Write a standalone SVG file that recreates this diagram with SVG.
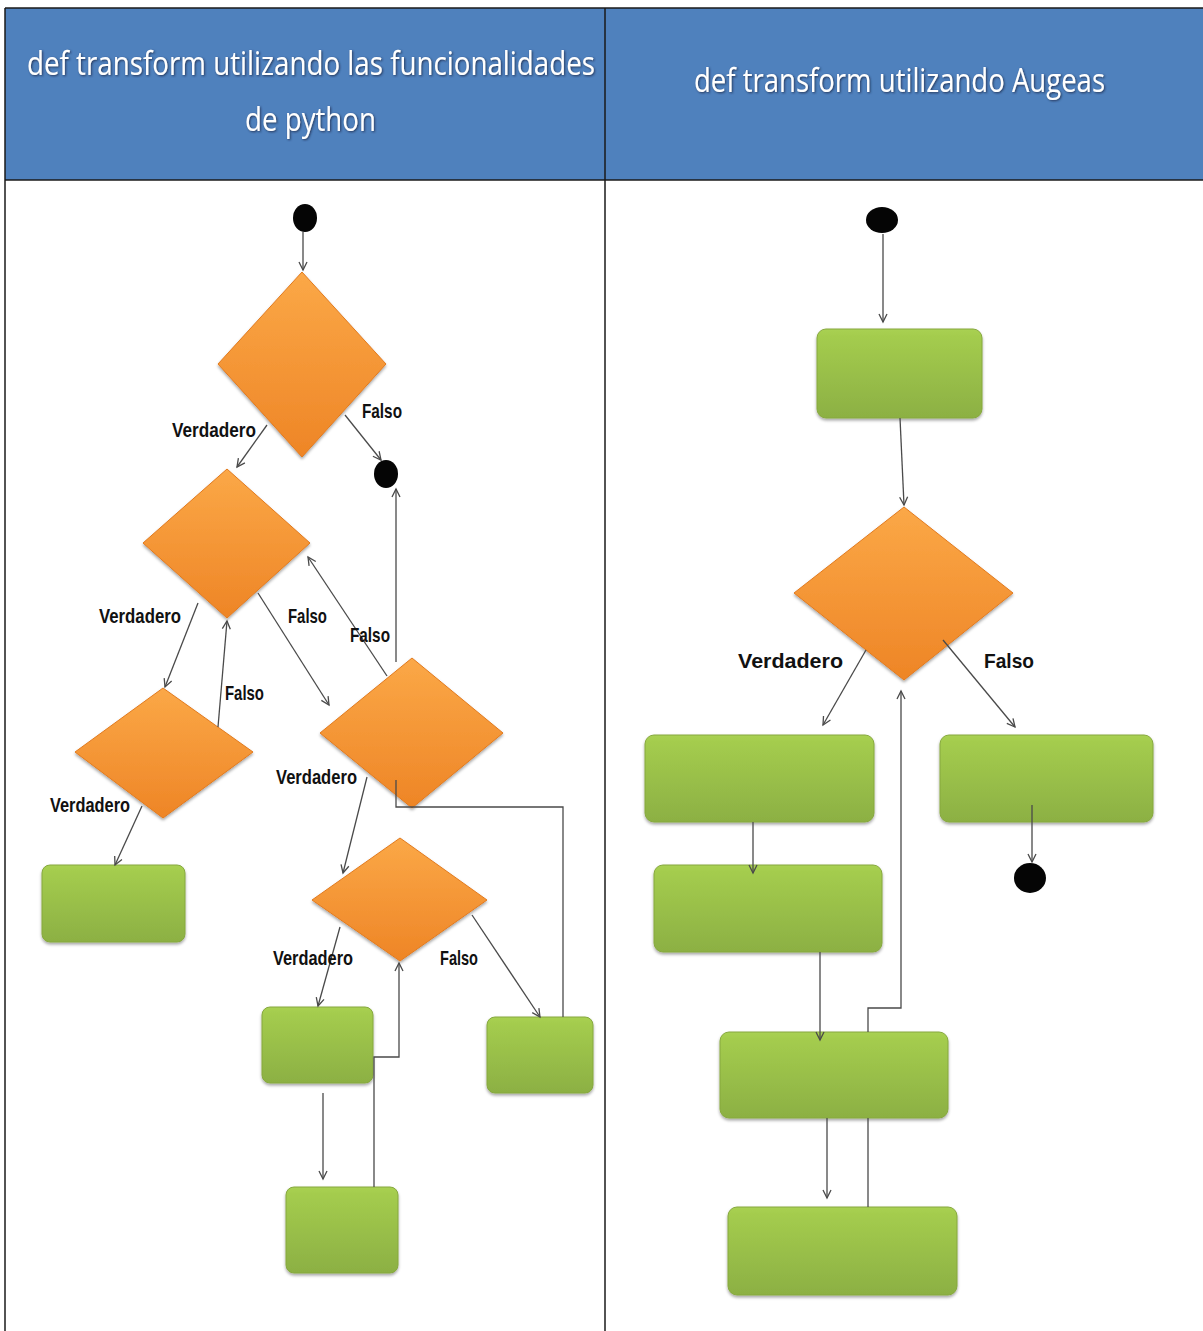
<svg xmlns="http://www.w3.org/2000/svg" width="1203" height="1331" viewBox="0 0 1203 1331">
<defs>
  <linearGradient id="gOrange" x1="0" y1="0" x2="0" y2="1">
    <stop offset="0" stop-color="#FBA847"/>
    <stop offset="1" stop-color="#EE8526"/>
  </linearGradient>
  <linearGradient id="gGreen" x1="0" y1="0" x2="0" y2="1">
    <stop offset="0" stop-color="#A9D152"/>
    <stop offset="0.08" stop-color="#A4CC4E"/>
    <stop offset="1" stop-color="#8CB043"/>
  </linearGradient>
  <filter id="shadow" x="-10%" y="-10%" width="120%" height="125%">
    <feDropShadow dx="0" dy="2" stdDeviation="1.5" flood-color="#000" flood-opacity="0.35"/>
  </filter>
  <filter id="tshadow" x="-5%" y="-20%" width="110%" height="150%">
    <feDropShadow dx="1" dy="1" stdDeviation="0.8" flood-color="#1F2F4F" flood-opacity="0.9"/>
  </filter>
  <marker id="arr" markerWidth="12" markerHeight="12" refX="9" refY="5" orient="auto" markerUnits="userSpaceOnUse">
    <path d="M1,1 L9,5 L1,9" fill="none" stroke="#4A4A4A" stroke-width="1.3"/>
  </marker>
</defs>
<style>
  .hdr { font-family: "Open Sans", "Liberation Sans", sans-serif; font-size: 32px; fill: #FFFFFF; }
  .lbl { font-family: "Liberation Sans", Arial, sans-serif; font-weight: bold; font-size: 21px; fill: #111; }
  .dia { fill: url(#gOrange); stroke: #E27A1E; stroke-width: 1; filter: url(#shadow); }
  .box { fill: url(#gGreen); stroke: #86A83E; stroke-width: 1; filter: url(#shadow); }
  .dot { fill: #050505; }
  .con { fill: none; stroke: #4A4A4A; stroke-width: 1.3; }
  .arw { marker-end: url(#arr); }
  .grid { stroke: #1A1A1A; stroke-width: 1.5; fill: none; }
</style>

<rect x="0" y="0" width="1203" height="1331" fill="#FFFFFF"/>

<g id="table">
  <rect x="5" y="8" width="1198" height="172" fill="#4F81BD"/>
  <line class="grid" x1="5" y1="8" x2="1203" y2="8"/>
  <line class="grid" x1="5" y1="180" x2="1203" y2="180"/>
  <line class="grid" x1="605" y1="8" x2="605" y2="1331" stroke-width="1.2"/>
  <line class="grid" x1="5" y1="8" x2="5" y2="1331" stroke-width="1.2"/>
  <g filter="url(#tshadow)">
    <text class="hdr" x="27" y="75" textLength="568" lengthAdjust="spacingAndGlyphs">def transform utilizando las funcionalidades</text>
    <text class="hdr" x="245" y="131" textLength="131" lengthAdjust="spacingAndGlyphs">de python</text>
    <text class="hdr" x="694" y="92" textLength="411" lengthAdjust="spacingAndGlyphs">def transform utilizando Augeas</text>
  </g>
</g>

<!-- Left flow nodes -->
<g id="L-start"><ellipse class="dot" cx="305" cy="218" rx="12" ry="14"/></g>
<g id="L-D1"><polygon class="dia" points="302,272 386,364 302,457 218,364"/></g>
<g id="L-end"><ellipse class="dot" cx="386" cy="474" rx="12" ry="14"/></g>
<g id="L-D2"><polygon class="dia" points="227,469 310,543 227,618 143,543"/></g>
<g id="L-D3"><polygon class="dia" points="163,688 253,752 163,818 75,752"/></g>
<g id="L-D4"><polygon class="dia" points="412,658 503,733 412,808 320,733"/></g>
<g id="L-B1"><rect class="box" x="42" y="865" width="143" height="77" rx="8"/></g>
<g id="L-D5"><polygon class="dia" points="400,838 487,900 400,961 312,900"/></g>
<g id="L-B2"><rect class="box" x="262" y="1007" width="111" height="76" rx="8"/></g>
<g id="L-B3"><rect class="box" x="487" y="1017" width="106" height="76" rx="8"/></g>
<g id="L-B4"><rect class="box" x="286" y="1187" width="112" height="86" rx="8"/></g>

<!-- Right flow nodes -->
<g id="R-start"><ellipse class="dot" cx="882" cy="220" rx="16" ry="13"/></g>
<g id="R-B1"><rect class="box" x="817" y="329" width="165" height="89" rx="9"/></g>
<g id="R-D1"><polygon class="dia" points="904,507 1013,593 904,680 794,593"/></g>
<g id="R-B2"><rect class="box" x="645" y="735" width="229" height="87" rx="9"/></g>
<g id="R-B3"><rect class="box" x="940" y="735" width="213" height="87" rx="9"/></g>
<g id="R-end"><ellipse class="dot" cx="1030" cy="878" rx="16" ry="15"/></g>
<g id="R-B5"><rect class="box" x="654" y="865" width="228" height="87" rx="9"/></g>
<g id="R-B4"><rect class="box" x="720" y="1032" width="228" height="86" rx="9"/></g>
<g id="R-B6"><rect class="box" x="728" y="1207" width="229" height="88" rx="9"/></g>

<g id="connectors">
  <!-- left -->
  <path class="con arw" d="M303,232 L303,270"/>
  <path class="con arw" d="M267,425 L237,467"/>
  <path class="con arw" d="M345,415 L381,460"/>
  <path class="con arw" d="M198,603 L165,687"/>
  <path class="con arw" d="M218,727 L227,621"/>
  <path class="con arw" d="M258,593 L329,705"/>
  <path class="con arw" d="M387,676 L308,557"/>
  <path class="con arw" d="M142,806 L115,865"/>
  <path class="con arw" d="M367,777 L343,873"/>
  <path class="con arw" d="M340,927 L318,1006"/>
  <path class="con arw" d="M472,915 L540,1017"/>
  <path class="con" d="M563,1017 L563,807 L396,807 L396,780"/>
  <path class="con arw" d="M396,662 L396,489"/>
  <path class="con arw" d="M374,1187 L374,1057 L399,1057 L399,963"/>
  <path class="con arw" d="M323,1093 L323,1179"/>
  <!-- right -->
  <path class="con arw" d="M883,234 L883,322"/>
  <path class="con arw" d="M900,418 L904,505"/>
  <path class="con arw" d="M866,650 L823,725"/>
  <path class="con arw" d="M943,640 L1015,727"/>
  <path class="con arw" d="M1032,805 L1032,862"/>
  <path class="con arw" d="M753,822 L753,873"/>
  <path class="con arw" d="M820,952 L820,1040"/>
  <path class="con" d="M868,1207 L868,1118"/>
  <path class="con arw" d="M868,1032 L868,1008 L901,1008 L901,691"/>
  <path class="con arw" d="M827,1118 L827,1198"/>
</g>

<g id="labels">
  <text class="lbl" x="172" y="437" textLength="84" lengthAdjust="spacingAndGlyphs">Verdadero</text>
  <text class="lbl" x="362" y="418" textLength="40" lengthAdjust="spacingAndGlyphs">Falso</text>
  <text class="lbl" x="99" y="623" textLength="82" lengthAdjust="spacingAndGlyphs">Verdadero</text>
  <text class="lbl" x="288" y="623" textLength="39" lengthAdjust="spacingAndGlyphs">Falso</text>
  <text class="lbl" x="350" y="642" textLength="40" lengthAdjust="spacingAndGlyphs">Falso</text>
  <text class="lbl" x="225" y="700" textLength="39" lengthAdjust="spacingAndGlyphs">Falso</text>
  <text class="lbl" x="276" y="784" textLength="81" lengthAdjust="spacingAndGlyphs">Verdadero</text>
  <text class="lbl" x="50" y="812" textLength="80" lengthAdjust="spacingAndGlyphs">Verdadero</text>
  <text class="lbl" x="273" y="965" textLength="80" lengthAdjust="spacingAndGlyphs">Verdadero</text>
  <text class="lbl" x="440" y="965" textLength="38" lengthAdjust="spacingAndGlyphs">Falso</text>
  <text class="lbl" x="738" y="668" textLength="105" lengthAdjust="spacingAndGlyphs">Verdadero</text>
  <text class="lbl" x="984" y="668" textLength="50" lengthAdjust="spacingAndGlyphs">Falso</text>
</g>
</svg>
